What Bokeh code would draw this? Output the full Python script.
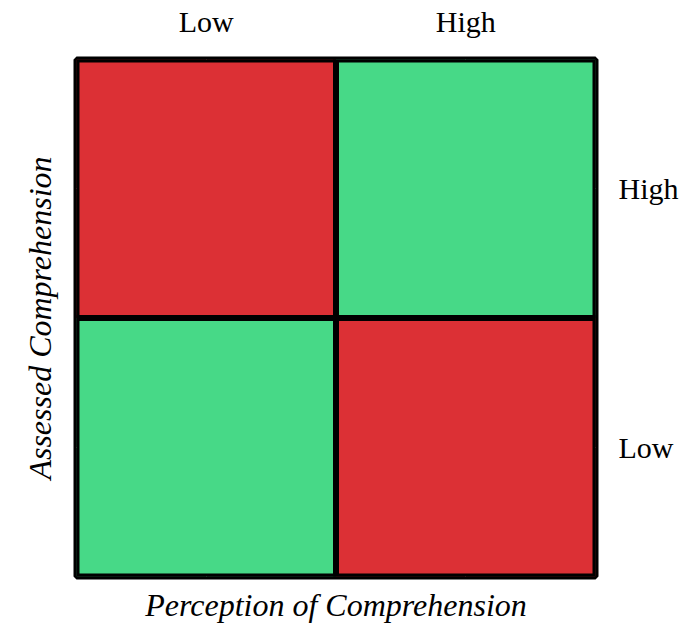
from bokeh.plotting import figure
from bokeh.models import FactorRange, CategoricalAxis, Title, ColumnDataSource
from bokeh.transform import factor_cmap
from bokeh.embed import file_html
from bokeh.resources import INLINE

# ---- data ----
perception_levels = ["Low", "High"]          # x categories (left -> right)
assessed_levels = ["Low", "High"]            # y categories (bottom -> top)
cell_perception = ["Low", "High", "Low", "High"]
cell_assessed = ["High", "High", "Low", "Low"]
cell_outcome = ["Mismatch", "Match", "Match", "Mismatch"]
outcome_levels = ["Mismatch", "Match"]
outcome_colors = ["#DC3035", "#47D987"]

x_title = "Perception of Comprehension"
y_title = "Assessed Comprehension"

FONT = "Liberation Serif"

src = ColumnDataSource(dict(x=cell_perception, y=cell_assessed, outcome=cell_outcome))

p = figure(
    width=682, height=630,
    x_range=FactorRange(*perception_levels),
    y_range=FactorRange(*assessed_levels),
    x_axis_location=None, y_axis_location=None,
    output_backend="svg", toolbar_location=None,
    min_border_left=76, min_border_right=87, min_border_top=59, min_border_bottom=53,
)
p.background_fill_color = "white"
p.border_fill_color = "white"
p.outline_line_color = "black"
p.outline_line_width = 6
p.outline_line_alpha = 1.0

p.rect(x="x", y="y", width=1, height=1, source=src,
       fill_color=factor_cmap("outcome", outcome_colors, outcome_levels),
       line_color="black", line_width=6)


def style_axis(ax, standoff):
    ax.axis_line_color = None
    ax.major_tick_line_color = None
    ax.minor_tick_line_color = None
    ax.major_tick_in = 0
    ax.major_tick_out = 0
    ax.major_label_standoff = standoff
    ax.major_label_text_font = FONT
    ax.major_label_text_font_size = "30px"
    ax.major_label_text_color = "black"
    ax.major_label_orientation = "horizontal"


top_axis = CategoricalAxis()
style_axis(top_axis, 22)
p.add_layout(top_axis, "above")

right_axis = CategoricalAxis()
style_axis(right_axis, 23)
p.add_layout(right_axis, "right")

bt = Title(text=x_title, align="center", text_font=FONT, text_font_style="italic",
           text_font_size="32px", text_color="black", standoff=16)
p.add_layout(bt, "below")

lt = Title(text=y_title, align="center", text_font=FONT, text_font_style="italic",
           text_font_size="32px", text_color="black", standoff=38)
p.add_layout(lt, "left")

open("out.html", "w").write(file_html(p, INLINE))
